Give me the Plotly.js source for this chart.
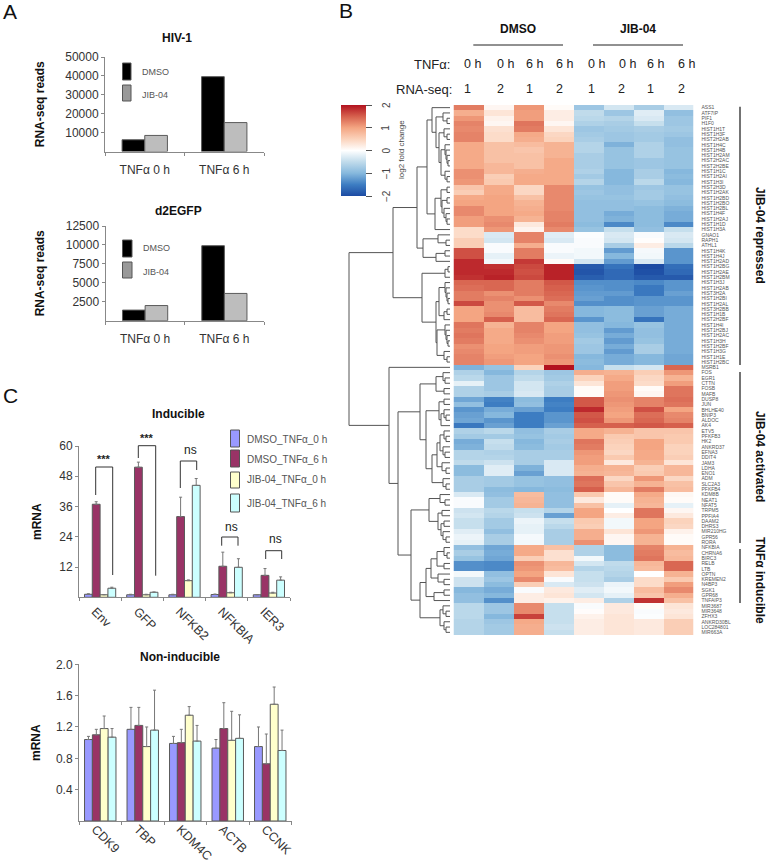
<!DOCTYPE html>
<html><head><meta charset="utf-8">
<script src="https://cdn.plot.ly/plotly-3.0.1.min.js"></script>
<style>html,body{margin:0;padding:0;background:#fff}#chart{width:768px;height:862px}</style>
</head><body><div id="chart"></div>
<script>
// ---------- Panel A ----------
const timeCats = ['TNFα 0 h', 'TNFα 6 h'];
const hivDmso = [6200, 39600];
const hivJib = [8500, 15300];
const gfpDmso = [1400, 9900];
const gfpJib = [2000, 3600];
const hivTicks = [10000, 20000, 30000, 40000, 50000];
const gfpTicks = [2500, 5000, 7500, 10000, 12500];

// ---------- Panel C ----------
const inducibleCats = ['Env', 'GFP', 'NFKB2', 'NFKBIA', 'IER3'];
const indDmso0 = [1.2, 1.0, 1.0, 1.1, 1.0];
const indDmso6 = [36.9, 51.6, 32.0, 12.3, 8.7];
const indJib0 = [1.0, 1.0, 6.6, 1.8, 1.7];
const indJib6 = [3.6, 2.0, 44.4, 11.9, 6.8];
const indErrDmso0 = [0.2, 0.2, 0.2, 0.2, 0.1];
const indErrDmso6 = [1.0, 2.0, 7.7, 5.6, 2.7];
const indErrJib0 = [0.1, 0.2, 0.3, 0.2, 0.3];
const indErrJib6 = [0.4, 0.1, 2.7, 3.4, 1.3];
const indTicks = [12, 24, 36, 48, 60];

const nonCats = ['CDK9', 'TBP', 'KDM4C', 'ACTB', 'CCNK'];
const nonDmso0 = [1.04, 1.17, 0.99, 0.93, 0.95];
const nonDmso6 = [1.10, 1.22, 1.00, 1.18, 0.73];
const nonJib0 = [1.18, 0.95, 1.35, 1.03, 1.49];
const nonJib6 = [1.07, 1.16, 1.02, 1.055, 0.90];
const nonErrDmso0 = [0.04, 0.28, 0.09, 0.11, 0.25];
const nonErrDmso6 = [0.07, 0.23, 0.17, 0.33, 0.38];
const nonErrJib0 = [0.16, 0.25, 0.11, 0.37, 0.22];
const nonErrJib6 = [0.11, 0.51, 0.20, 0.30, 0.26];
const nonTicks = [0.4, 0.8, 1.2, 1.6, 2.0];

const cLegend = ['DMSO_TNFα_0 h', 'DMSO_TNFα_6 h', 'JIB-04_TNFα_0 h', 'JIB-04_TNFα_6 h'];

// ---------- Panel B ----------
const genes = ['ASS1','ATF7IP','PIF1','H1F0','HIST1H1T','HIST1H3F','HIST2H2AB','HIST1H4C','HIST1H4B','HIST1H2AM',
'HIST2H2AC','HIST2H2BE','HIST1H1C','HIST1H2AI','HIST1H3I','HIST2H3D','HIST1H2AK','HIST1H2BD','HIST1H2BO','HIST1H2BL',
'HIST1H4F','HIST1H2AJ','HIST1H1D','HIST1H3A','GNAO1','RAPH1','ATHL1','HIST1H4K','HIST1H4J','HIST1H2AD',
'HIST1H2BG','HIST1H2AE','HIST1H2BM','HIST1H3J','HIST1H2AB','HIST3H2A','HIST1H2BI','HIST1H2AL','HIST3H2BB','HIST1H1B',
'HIST2H2BF','HIST1H4I','HIST1H2BJ','HIST1H2AC','HIST1H3H','HIST1H2BF','HIST1H3G','HIST1H1E','HIST1H2BC','MSRB1',
'FOS','EGR1','CTTN','FOSB','MAFB','DUSP8','JUN','BHLHE40','BNIP3','ALDOC',
'AK4','ETV5','PFKFB3','HK2','ANKRD37','EFNA3','DDIT4','JAM3','LDHA','ENO1',
'ADM','SLC2A3','PFKFB4','KDM8B','NEAT1','NFAT5','TRPM5','PPFIA4','DAAM2','DHRS3',
'MIR210HG','GPR56','RORA','NFKBIA','CHRNA6','BIRC3','RELB','LTB','OPTN','KREMEN2',
'N4BP3','SGK1','GPR68','TNFAIP3','MIR3687','MIR3648','ZFHX3','ANKRD30BL','LOC284801','MIR663A'];
const samples = ['DMSO 0h 1','DMSO 0h 2','DMSO 6h 1','DMSO 6h 2','JIB 0h 1','JIB 0h 2','JIB 6h 1','JIB 6h 2'];
const foldChange = [
[1.3,.1,1.1,.05,-.8,-.35,-.7,-.3],[.9,.3,1.05,.2,-.5,-.8,-.25,-.9],[1.1,.15,1.05,.2,-.55,-.6,-.3,-.8],[1.25,.1,1.35,.1,-.65,-.7,-.45,-.8],
[1.2,.35,1.3,.3,-.8,-.75,-.7,-.75],[1.25,.4,.95,.45,-.75,-.8,-.75,-.8],[1.25,.4,.9,.5,-.7,-.8,-.75,-.9],[.95,.7,.75,.85,-.6,-1.05,-.65,-.9],
[.95,.7,.65,.85,-.6,-.85,-.65,-.85],[.95,.7,.7,.85,-.7,-.85,-.65,-.85],[.95,.7,.7,.95,-.7,-.85,-.8,-.85],[.95,.8,.7,.95,-.7,-.85,-.8,-.85],
[1.15,.8,.9,.95,-.65,-1,-.7,-1],[1.15,.55,.95,.95,-.75,-1,-.7,-.95],[1.1,.6,.95,.95,-.6,-1,-.55,-1],[.65,.95,.45,1.2,-.85,-.9,-.8,-.85],
[.55,.95,.45,1.2,-.8,-.9,-.75,-.85],[.95,1,.7,1.2,-.85,-.85,-.75,-.9],[1,1,.85,1.2,-.9,-.9,-.85,-.95],[1.2,1,.9,1.2,-.9,-.9,-.95,-1.05],
[1.2,1,.95,1.25,-.9,-1.1,-.95,-1.1],[1.05,1.15,.85,1.25,-.9,-1.05,-.95,-1.1],[1.05,1.2,.25,1.3,-.95,-1.4,-.95,-1.4],[.4,1.1,.12,1.2,-.85,-.45,-.9,-.45],
[.4,-.3,1.25,-.25,-.03,-.3,-.05,-.3],[.55,-.35,1.25,-.3,-.05,-.35,.02,-.35],[.55,-.05,.9,-.05,-.05,-.7,.2,-.55],[1.6,-.05,1.3,-.05,-.1,-1.25,-.08,-1.3],
[1.6,-.2,1.3,-.15,-.1,-1,-.1,-1.3],[1.85,-.1,1.75,.05,-.35,-1.25,-.3,-1.3],[1.85,1.8,1.65,1.9,-1.85,-1.6,-2,-1.65],[1.85,1.85,1.6,1.9,-1.9,-1.7,-1.95,-1.7],
[1.8,1.9,1.65,1.9,-1.8,-1.7,-1.85,-1.85],[1.45,1.45,1.3,1.55,-1.35,-1.35,-1.4,-1.3],[1.4,1.45,1.3,1.5,-1.3,-1.35,-1.55,-1.3],[1.3,1.15,1.3,1.45,-1.25,-1.25,-1.55,-1.2],
[1.3,1.25,1.15,1.4,-1.2,-1.35,-1.3,-1.3],[1.65,1.15,1.55,1.2,-1.35,-1.35,-1.3,-1.3],[1,1.15,.75,1.3,-1,-.95,-1.2,-1.1],[1,1.2,.75,1.35,-1,-.95,-1.2,-1.1],
[1,1.5,.75,1.45,-1.3,-.95,-1.6,-1.1],[1.35,.85,1.25,1,-.9,-1,-.85,-1.1],[1.3,.95,1.25,1,-.9,-1.25,-.9,-1.1],[1.35,.95,1.2,1.05,-.85,-1.1,-.9,-1.1],
[1.3,.95,1.15,1.05,-.75,-1.25,-.85,-1.1],[1.15,1,1.05,1.1,-.8,-1.1,-.7,-1.1],[1.2,1,1.05,1.1,-.8,-1.25,-.7,-1.1],[1.25,1.05,1,1.15,-1,-1.1,-1,-1.15],
[1.25,1.1,1,1.1,-.95,-1.1,-1,-1.15],[-1.05,-.85,.5,2,-1,-.45,-.35,1.45],[-.65,-1,-.6,-.8,.9,.85,.55,1.1],[-.55,-.8,-.5,-.75,.5,.95,.45,.85],
[-.2,-.8,-.35,-.65,.3,1.05,.4,1.05],[-.65,-.8,-.35,-.7,.05,1.05,.05,1.35],[-.65,-.7,-.3,-.7,.05,1.1,.1,1.35],[-1.15,-1.45,-.95,-1.5,1.55,1.15,1.25,1.4],
[-.9,-1.5,-.9,-1.45,1.55,1.1,1.25,1.35],[-1.3,-1.1,-1.2,-1.5,1.85,1.05,1.6,1],[-1.2,-1,-1.5,-1.3,1.55,1,1.4,1.2],[-1.15,-1.3,-1.5,-1.3,1.6,1.1,1.45,1.25],
[-1.55,-1.2,-1.5,-1.2,1.5,1.5,1.55,1.5],[-.65,-.55,-.9,-.7,.95,.85,.65,.65],[-.75,-.75,-.85,-.75,.95,.6,.65,.6],[-1.1,-.45,-1,-.7,1.35,.55,1,.6],
[-1.05,-.5,-.95,-.75,1.3,.5,1,.5],[-.6,-.65,-.7,-.7,1.1,.45,.95,.5],[-.6,-.6,-.7,-.7,1.05,.6,.95,.55],[-.5,-.4,-.7,-.3,1.05,.25,.85,.3],
[-.95,-.25,-1.05,-.3,.9,.85,.55,.8],[-.95,-.25,-1.2,-.3,.85,.8,.6,.8],[-.7,-.75,-.85,-.9,1.4,.45,1.1,.45],[-.7,-.75,-.85,-.9,1.35,.65,.85,.7],
[-.7,-.95,-1,-.95,1.5,.8,1.3,.75],[-.3,-.9,.75,-.9,.6,.05,.95,.08],[-.05,-.75,.8,-.9,.25,.05,.85,.05],[-.05,-.75,.85,-.9,.7,-.2,.8,-.2],
[-.4,-.55,-.45,-.6,1,0,1.35,.1],[-.35,-.6,-.4,-1.2,1,.2,1.35,.25],[-.45,-.75,-.15,-.45,.6,-.1,1,.5],[-.45,-.75,-.2,-.55,.55,-.1,1,.45],
[-.25,-.9,-.2,-.7,.9,.3,1.1,.15],[-.15,-.7,-.08,-.7,.9,.1,.85,.05],[-.2,-.7,-.1,-.7,1.15,.1,.85,.05],[-.9,-1.15,.95,.7,-.65,-.95,1.25,.85],
[-.7,-1.1,.95,.35,-.65,-.95,1.3,.75],[-.85,-1.15,.55,.35,-.1,-.95,1.35,.8],[-1.35,-1.4,1.15,.8,-.35,-.5,.8,1.45],[-1.35,-1.4,1.1,.75,-.6,-.55,.75,1.45],
[-.1,-.9,1,.3,-.45,-.6,0,.85],[-.4,-.8,1.2,-.05,-.45,-.7,.4,.6],[-.4,-.95,.55,-.3,-.4,-.15,.4,1.05],[-1,-1.1,-.05,.25,-.25,-.1,.75,1.2],
[-.9,-1,.2,.3,-.35,-.2,.65,.9],[-.9,-1.35,.2,.15,.2,-.65,1.8,.7],[-.55,-.8,1.2,-.45,-.05,.25,.05,.3],[-.55,-.8,1.2,-.45,.03,.25,-.05,.25],
[-.55,-1,1.7,-.45,.15,.3,-.03,.3],[-.6,-.8,.95,-.45,.2,.3,.25,.55],[-.6,-.75,.9,-.4,.2,.3,.25,.55],[-.6,-.75,.9,-.45,.2,.3,.25,.55]];
const colorTicks = [-2, -1, 0, 1, 2];

// Row clustering: [merge height, child, child]; a number is a row of the heatmap.
const clusterTop = [57,
 [33,
  [23,
   [18, 1, [14, [7, 2, [3, 3, 4]], [11, [6, 5, [3, 6, 7]], [9, [5, 8, [4, 9, [3, 10, [2, 11, 12]]]], [5, 13, [3, 14, 15]]]]]],
   [15, [9, [3, 16, 17], [8, [3, 18, 19], [6, 20, [4, 21, [3, 22, 23]]]]], 24]],
  [27, [12, 25, [4, 26, 27]], [14, [5, 28, 29], 30]]],
 [28,
  [5, [2, 31, 32], 33],
  [14, [11, [5, 34, [4, 35, [3, 36, [2, 37, 38]]]], [6, [3, 39, 40], 41]],
       [13, [5, 42, [4, 43, [3, 44, [2, 45, 46]]]], [6, 47, [3, 48, 49]]]]]];
const clusterBottom = [61, 50,
 [52,
  [30,
   [14, [7, 51, [5, 52, 53]], [6, 54, 55]],
   [24,
    [11, [6, 56, 57], [9, [6, 58, [4, 59, 60]], 61]],
    [18, [13, [10, [6, 62, [4, 63, 64]], [7, 65, [5, 66, 67]]], [8, 68, [4, 69, 70]]], [7, 71, [4, 72, 73]]]]],
  [39,
   [21, [10, 74, [5, 75, 76]], [12, [8, 77, 78], [9, [6, 79, 80], [7, 81, [4, 82, 83]]]]],
   [30,
    [24, [19, [13, [6, 84, [3, 85, 86]], [6, 87, 88]], [12, 89, [6, 90, 91]]], [16, [6, 92, 93], 94]],
    [10, [7, 95, [4, 96, 97]], [6, 98, [4, 99, 100]]]]]]];
const clusterRoot = [101, clusterTop, clusterBottom];

const W = 768, H = 862;
const fx = x => x / W, fy = y => 1 - y / H;
const dom = (a, b) => [a / W, b / W];
const domY = (top, bottom) => [1 - bottom / H, 1 - top / H];
const FONT = '"Liberation Sans", Arial, sans-serif';
const TXT = '#333333';

// Walk the cluster tree into a line trace
const dx = [], dy = [];
function walk(n) {
  if (typeof n === 'number') return {h: 0, r: n};
  const a = walk(n[1]), b = walk(n[2]);
  dx.push(a.h, n[0], n[0], b.h, null);
  dy.push(a.r, a.r, b.r, b.r, null);
  return {h: n[0], r: (a.r + b.r) / 2};
}
walk(clusterRoot);

const traces = [];
const err = a => ({type: 'data', symmetric: false, array: a, arrayminus: a.map(() => 0), color: '#777', thickness: 1, width: 1.5});
function bar(ax, ay, x, y, color, width, offset, e) {
  const t = {type: 'bar', xaxis: ax, yaxis: ay, x: x, y: y, width: width, offset: offset,
    marker: {color: color, line: {color: '#5a5a5a', width: 1}}, showlegend: false, hoverinfo: 'x+y'};
  if (e) t.error_y = err(e);
  traces.push(t);
}
// Panel A bars
bar('x', 'y', timeCats, hivDmso, '#000000', 0.285, -0.285);
bar('x', 'y', timeCats, hivJib, '#bdbdbd', 0.285, 0);
bar('x2', 'y2', timeCats, gfpDmso, '#000000', 0.285, -0.285);
bar('x2', 'y2', timeCats, gfpJib, '#bdbdbd', 0.285, 0);
// Panel C bars
const cCol = ['#9999ff', '#993366', '#ffffcc', '#ccffff'];
[[indDmso0, indErrDmso0], [indDmso6, indErrDmso6], [indJib0, indErrJib0], [indJib6, indErrJib6]].forEach((s, i) =>
  bar('x3', 'y3', inducibleCats, s[0], cCol[i], 0.185, -0.37 + i * 0.185, s[1]));
[[nonDmso0, nonErrDmso0], [nonDmso6, nonErrDmso6], [nonJib0, nonErrJib0], [nonJib6, nonErrJib6]].forEach((s, i) =>
  bar('x4', 'y4', nonCats, s[0], cCol[i], 0.185, -0.37 + i * 0.185, s[1]));

// Heatmap
traces.push({type: 'heatmap', xaxis: 'x5', yaxis: 'y5', z: foldChange, x: samples, y: genes.map((g, i) => i + 1),
  zmin: -2, zmax: 2, hoverongaps: false,
  colorscale: [[0, '#1c4ba3'], [0.125, '#3d7dc2'], [0.25, '#86b8dd'], [0.375, '#c0dbeb'], [0.5, '#ffffff'],
               [0.625, '#fbd3bc'], [0.75, '#f4a582'], [0.875, '#d6604d'], [1, '#b2121f']],
  colorbar: {x: fx(341), xanchor: 'left', xpad: 0, y: fy(105), yanchor: 'top', ypad: 0,
    lenmode: 'pixels', len: 91, thicknessmode: 'pixels', thickness: 25, outlinewidth: 0,
    tickmode: 'array', tickvals: colorTicks, ticks: 'outside', ticklen: 6, tickcolor: '#555', tickwidth: 1,
    showticklabels: false}});
// Dendrogram
traces.push({type: 'scatter', mode: 'lines', xaxis: 'x6', yaxis: 'y6', x: dx, y: dy,
  line: {color: '#555', width: 1}, hoverinfo: 'skip', showlegend: false, connectgaps: false});

const barX = (domain, extra) => Object.assign({domain: domain, anchor: undefined, type: 'category', showline: true, linecolor: '#888', linewidth: 1,
  ticks: 'outside', ticklen: 3, tickcolor: '#888', tickson: 'boundaries', showgrid: false, zeroline: false, automargin: false,
  tickfont: {family: FONT, size: 12, color: TXT}}, extra || {});
const barY = (domain, range, ticks, title, standoff, extra) => Object.assign({domain: domain, range: range, tickmode: 'array', tickvals: ticks,
  tickformat: 'd', showline: true, linecolor: '#888', linewidth: 1, ticks: 'outside', ticklen: 3, tickcolor: '#888', showgrid: false, zeroline: false, automargin: false,
  tickfont: {family: FONT, size: 12, color: TXT},
  title: {text: '<b>' + title + '</b>', standoff: standoff, font: {family: FONT, size: 12, color: '#111'}}}, extra || {});
const rotatedFont = {family: FONT, size: 12.5, color: TXT};

const layout = {
  width: W, height: H, margin: {l: 0, r: 0, t: 0, b: 0, pad: 0}, paper_bgcolor: '#fff', plot_bgcolor: 'rgba(0,0,0,0)',
  barmode: 'overlay', showlegend: false, font: {family: FONT},
  xaxis: barX(dom(105, 264), {anchor: 'y', ticklabelstandoff: 7}),
  yaxis: barY(domY(57, 151.5), [0, 50000], hivTicks, 'RNA-seq reads', 18, {anchor: 'x'}),
  xaxis2: barX(dom(105.5, 264), {anchor: 'y2', ticklabelstandoff: 7}),
  yaxis2: barY(domY(226, 320.7), [0, 12500], gfpTicks, 'RNA-seq reads', 18, {anchor: 'x2'}),
  xaxis3: barX(dom(79, 290), {anchor: 'y3', tickangle: 45, ticklabelshift: -5, ticklabelstandoff: 1, tickfont: rotatedFont}),
  yaxis3: barY(domY(446, 597.3), [0, 60], indTicks, 'mRNA', 15, {anchor: 'x3'}),
  xaxis4: barX(dom(79, 291.5), {anchor: 'y4', tickangle: 45, ticklabelshift: -5, ticklabelstandoff: -5, tickfont: rotatedFont}),
  yaxis4: barY(domY(664.3, 821), [0, 2], nonTicks, 'mRNA', 12, {anchor: 'x4', tickformat: '.1f'}),
  xaxis5: {domain: dom(453.5, 693.5), anchor: 'y5', type: 'category', visible: false},
  yaxis5: {domain: domY(105, 635), anchor: 'x5', side: 'right', range: [100.5, 0.5], showgrid: false, zeroline: false, showline: false,
    tickmode: 'array', tickvals: genes.map((g, i) => i + 1), ticktext: genes, ticks: 'outside', ticklen: 6, tickcolor: 'rgba(0,0,0,0)',
    tickfont: {family: FONT, size: 5, color: '#555'}, automargin: false},
  xaxis6: {domain: dom(345, 450), anchor: 'y6', range: [105, 0], visible: false},
  yaxis6: {domain: domY(105, 635), anchor: 'x6', range: [100.5, 0.5], visible: false}
};

// Text
const ann = [];
function text(x, y, t, o) {
  ann.push(Object.assign({xref: 'paper', yref: 'paper', x: fx(x), y: fy(y), text: t, showarrow: false, xanchor: 'center', yanchor: 'middle',
    font: {family: FONT, size: 12, color: '#111'}}, o || {}));
}
const bold = (x, y, t, o) => text(x, y, '<b>' + t + '</b>', o);
text(10, 12, 'A', {font: {family: FONT, size: 21, color: '#111'}});
text(346, 10, 'B', {font: {family: FONT, size: 21, color: '#111'}});
text(10, 396, 'C', {font: {family: FONT, size: 21, color: '#111'}});
bold(177, 38, 'HIV-1'); bold(178, 211, 'd2EGFP'); bold(178, 414, 'Inducible'); bold(180, 657, 'Non-inducible');
bold(518, 29, 'DMSO'); bold(638, 29, 'JIB-04');
text(452, 64, 'TNFα:', {xanchor: 'right', font: {family: FONT, size: 13, color: '#222'}});
text(454, 89, 'RNA-seq:', {xanchor: 'right', font: {family: FONT, size: 13, color: '#222'}});
[[472.7, '0 h'], [505, '0 h'], [534, '6 h'], [564, '6 h'], [596, '0 h'], [627, '0 h'], [655, '6 h'], [686, '6 h']].forEach(d =>
  text(d[0], 64, d[1], {font: {family: FONT, size: 12.5, color: '#222'}}));
[[467, '1'], [500, '2'], [529, '1'], [559, '2'], [591, '1'], [621, '2'], [650, '1'], [681, '2']].forEach(d =>
  text(d[0], 89, d[1], {font: {family: FONT, size: 12.5, color: '#222'}}));
bold(760, 235, 'JIB-04 repressed', {textangle: 90});
bold(760, 456, 'JIB-04 activated', {textangle: 90});
bold(760, 580, 'TNFα inducible', {textangle: 90});
// Colour key labels
colorTicks.forEach(v => text(386, 150.5 - v * 22.75, String(v).replace('-', '−'), {textangle: -90, font: {family: FONT, size: 10, color: '#444'}}));
text(402, 150, 'log2 fold change', {textangle: -90, font: {family: FONT, size: 8, color: '#444'}});
const smallLeg = {xanchor: 'left', font: {family: FONT, size: 9, color: '#555'}};
text(140, 72, 'DMSO', smallLeg); text(140, 95, 'JIB-04', smallLeg);
text(141, 248, 'DMSO', smallLeg); text(141, 272, 'JIB-04', smallLeg);
const cLeg = {xanchor: 'left', font: {family: FONT, size: 10, color: '#555'}};
[439, 459, 479, 503].forEach((y, i) => text(245, y, cLegend[i], cLeg));
const mark = {font: {family: FONT, size: 11, color: '#222'}};
const nsF = {font: {family: FONT, size: 12, color: '#222'}};
bold(104, 459, '***', mark); bold(147, 438, '***', mark);
text(190, 450, 'ns', nsF); text(231, 527, 'ns', nsF); text(275, 539, 'ns', nsF);
layout.annotations = ann;

// Lines and swatches
const shp = [];
function line(pts, color, w) {
  shp.push({type: 'path', xref: 'paper', yref: 'paper', line: {color: color, width: w},
    path: pts.map((p, i) => (i ? 'L' : 'M') + fx(p[0]) + ',' + fy(p[1])).join(' ')});
}
function swatch(x0, y0, x1, y1, fill) {
  shp.push({type: 'rect', xref: 'paper', yref: 'paper', x0: fx(x0), x1: fx(x1), y0: fy(y0), y1: fy(y1), fillcolor: fill, line: {color: '#555', width: 1}});
}
line([[473.3, 45], [563, 45]], '#222', 1); line([[593, 45], [683, 45]], '#222', 1);
line([[740, 106.7], [740, 365]], '#444', 1.5); line([[740, 372], [740, 543]], '#444', 1.5); line([[740, 549], [740, 603]], '#444', 1.5);
swatch(122.5, 63, 131, 80, '#000'); swatch(122.5, 85, 131, 101, '#999');
swatch(122.5, 240, 132, 257, '#000'); swatch(122.5, 262, 132, 278, '#999');
swatch(230.5, 430, 239.5, 447, cCol[0]); swatch(230.5, 450, 239.5, 467, cCol[1]);
swatch(230.5, 472, 239.5, 488, cCol[2]); swatch(230.5, 494, 239.5, 512, cCol[3]);
line([[95.7, 495], [95.7, 467], [112.7, 467], [112.7, 575]], '#333', 1);
line([[138.3, 458], [138.3, 445.7], [155.7, 445.7], [155.7, 575.7]], '#333', 1);
line([[180.3, 488], [180.3, 461], [196.7, 461], [196.7, 470]], '#333', 1);
line([[221.7, 545.7], [221.7, 537], [238, 537], [238, 545.7]], '#333', 1);
line([[265.7, 559], [265.7, 550.7], [281.7, 550.7], [281.7, 559]], '#333', 1);
layout.shapes = shp;

Plotly.newPlot('chart', traces, layout, {displayModeBar: false, responsive: false});
</script></body></html>
